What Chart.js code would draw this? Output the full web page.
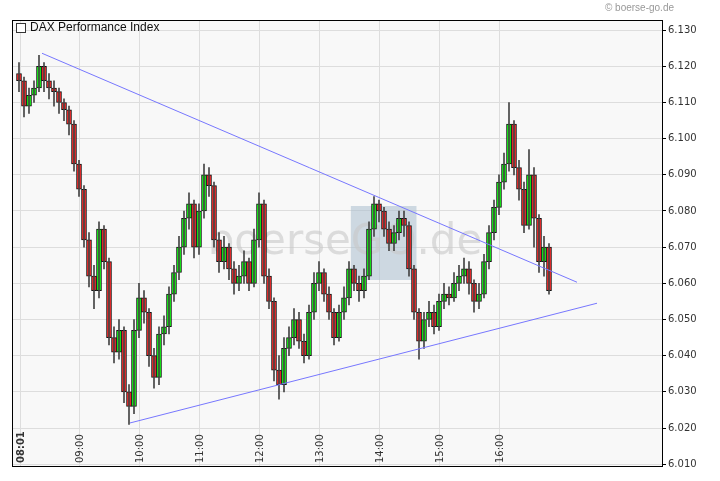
<!DOCTYPE html>
<html>
<head>
<meta charset="utf-8">
<script src="https://cdn.jsdelivr.net/npm/chart.js@4/dist/chart.umd.min.js"></script>
<style>
  html, body { margin: 0; padding: 0; background: #fff; }
  #wrap { width: 720px; height: 481px; position: relative; }
</style>
</head>
<body>
<div id="wrap"><canvas id="chart"></canvas></div>
<script>
// ── Data (5-minute candles, minutes after 08:00) ──────────
const firstOpen = 6118;
const closes = [6116, 6109, 6112, 6114, 6120, 6116, 6114, 6113, 6110, 6108,
  6104, 6093, 6086, 6072, 6062, 6058, 6075, 6066, 6045, 6041,
  6047, 6030, 6026, 6047, 6056, 6052, 6040, 6034, 6046, 6048,
  6057, 6063, 6070, 6078, 6082, 6070, 6080, 6090, 6087, 6072,
  6066, 6070, 6064, 6060, 6062, 6066, 6060, 6072, 6082, 6062,
  6055, 6036, 6032, 6042, 6045, 6050, 6044, 6040, 6052, 6060,
  6063, 6057, 6052, 6045, 6052, 6056, 6064, 6060, 6058, 6062,
  6075, 6082, 6080, 6075, 6071, 6074, 6078, 6076, 6064, 6052,
  6044, 6050, 6052, 6048, 6055, 6057, 6056, 6060, 6062, 6064,
  6060, 6055, 6057, 6066, 6074, 6081, 6088, 6093, 6104, 6092,
  6086, 6076, 6090, 6078, 6066, 6070, 6058];
const highs = [6121, 6117, 6114, 6116, 6123, 6121, 6118, 6116, 6114, 6111,
  6109, 6105, 6094, 6087, 6074, 6065, 6077, 6076, 6067, 6048,
  6050, 6048, 6032, 6050, 6060, 6058, 6053, 6042, 6048, 6051,
  6059, 6065, 6073, 6080, 6085, 6083, 6082, 6093, 6092, 6088,
  6074, 6073, 6071, 6066, 6065, 6069, 6067, 6075, 6085, 6083,
  6064, 6056, 6040, 6045, 6048, 6053, 6052, 6046, 6054, 6063,
  6066, 6064, 6059, 6053, 6054, 6059, 6066, 6065, 6062, 6064,
  6077, 6084, 6083, 6081, 6077, 6076, 6080, 6080, 6077, 6065,
  6053, 6052, 6055, 6054, 6057, 6060, 6059, 6063, 6065, 6067,
  6066, 6061, 6060, 6068, 6076, 6083, 6090, 6096, 6110, 6105,
  6094, 6088, 6097, 6092, 6079, 6073, 6071];
const lows = [6113, 6106, 6107, 6110, 6113, 6113, 6111, 6109, 6107, 6105,
  6101, 6091, 6084, 6070, 6059, 6053, 6056, 6064, 6043, 6038,
  6039, 6027, 6021, 6024, 6045, 6049, 6037, 6031, 6032, 6043,
  6046, 6055, 6061, 6068, 6075, 6067, 6068, 6078, 6084, 6070,
  6063, 6064, 6061, 6057, 6058, 6060, 6058, 6059, 6070, 6060,
  6053, 6033, 6028, 6030, 6040, 6043, 6042, 6038, 6039, 6050,
  6058, 6055, 6050, 6043, 6044, 6050, 6054, 6058, 6055, 6056,
  6061, 6073, 6077, 6073, 6069, 6069, 6072, 6073, 6062, 6050,
  6039, 6042, 6048, 6046, 6047, 6053, 6054, 6055, 6058, 6060,
  6057, 6052, 6053, 6056, 6064, 6072, 6079, 6086, 6091, 6090,
  6083, 6074, 6075, 6070, 6063, 6062, 6057];
const candleMinutes = 5;

const hourTicks = [1, 60, 120, 180, 240, 300, 360, 420, 480];
const hourLabels = ["08:01", "09:00", "10:00", "11:00", "12:00", "13:00", "14:00", "15:00", "16:00"];
const priceTicks = [6010, 6020, 6030, 6040, 6050, 6060, 6070, 6080, 6090, 6100, 6110, 6120, 6130];

// trend lines: [minute, price]
const upperTrend = [[23, 6123.6], [558, 6060.3]];
const lowerTrend = [[111, 6021.4], [578, 6054.5]];

// ── Build datasets ────────────────────────────────────────
const opens = closes.map((c, i) => (i === 0 ? firstOpen : closes[i - 1]));
const wicks = closes.map((c, i) => ({ x: i * candleMinutes, y: [lows[i], highs[i]] }));
const bodies = closes.map((c, i) => ({ x: i * candleMinutes, y: [opens[i], c === opens[i] ? c + 0.3 : c] }));
const bodyColors = closes.map((c, i) => (c >= opens[i] ? "#11ff11" : "#ff2828"));

const bgPlugin = {
  id: "bg",
  beforeDraw(chart) {
    const { ctx, chartArea: a } = chart;
    ctx.save();
    ctx.fillStyle = "#f8f8f8";
    ctx.fillRect(a.left, a.top, a.right - a.left, a.bottom - a.top);
    ctx.restore();
  },
  beforeDatasetsDraw(chart) {
    const cx = 345, cy = 243;
    const { ctx } = chart;
    ctx.save();
    ctx.font = "42px 'DejaVu Sans', sans-serif";
    ctx.textBaseline = "middle";
    const w1 = ctx.measureText("boerse").width;
    const w2 = ctx.measureText("GO").width;
    const w3 = ctx.measureText(".de").width;
    const x = cx - (w1 + w2 + w3) / 2;
    ctx.fillStyle = "rgba(170,190,205,0.55)";
    ctx.fillRect(x + w1, cy - 37, w2, 74);
    ctx.fillStyle = "rgba(200,200,200,0.6)";
    ctx.fillText("boerse", x, cy);
    ctx.fillText("GO", x + w1, cy);
    ctx.fillText(".de", x + w1 + w2, cy);
    ctx.restore();
  },
  afterDraw(chart) {
    const { ctx, chartArea: a } = chart;
    const xs = chart.scales.x;
    ctx.save();
    ctx.strokeStyle = "#000";
    ctx.lineWidth = 1;
    ctx.strokeRect(a.left + 0.5, a.top + 0.5, a.right - a.left, a.bottom - a.top);
    // time labels inside the plot, rotated
    ctx.fillStyle = "#333";
    ctx.textAlign = "left";
    ctx.textBaseline = "middle";
    hourTicks.forEach((t, i) => {
      ctx.save();
      ctx.translate(xs.getPixelForValue(t) + 1, a.bottom - 3);
      ctx.rotate(-Math.PI / 2);
      ctx.font = (i === 0 ? "bold " : "") + "10px 'DejaVu Sans', sans-serif";
      ctx.fillText(hourLabels[i], 0, 0);
      ctx.restore();
    });
    // legend
    ctx.fillStyle = "#fff";
    ctx.fillRect(a.left + 4, a.top + 3, 9, 9);
    ctx.strokeStyle = "#333";
    ctx.strokeRect(a.left + 4.5, a.top + 3.5, 9, 9);
    ctx.fillStyle = "#111";
    ctx.textAlign = "left";
    ctx.font = "12px 'Liberation Sans', Arial, sans-serif";
    ctx.fillText("DAX Performance Index", a.left + 18, a.top + 8);
    // copyright
    ctx.fillStyle = "#999";
    ctx.textAlign = "right";
    ctx.font = "10px 'Liberation Sans', Arial, sans-serif";
    ctx.fillText("\u00a9 boerse-go.de", 674, 8);
    ctx.restore();
  }
};

new Chart(document.getElementById("chart"), {
  data: {
    datasets: [
      {
        type: "line",
        data: upperTrend.map(([x, y]) => ({ x, y })),
        borderColor: "#7777ff", borderWidth: 1, pointRadius: 0
      },
      {
        type: "line",
        data: lowerTrend.map(([x, y]) => ({ x, y })),
        borderColor: "#7777ff", borderWidth: 1, pointRadius: 0
      },
      {
        type: "bar",
        data: wicks,
        backgroundColor: "#444",
        barThickness: 1,
        grouped: false
      },
      {
        type: "bar",
        data: bodies,
        backgroundColor: bodyColors,
        borderColor: "#111",
        borderWidth: 1,
        borderSkipped: false,
        barThickness: 5,
        grouped: false
      }
    ]
  },
  options: {
    responsive: true,
    maintainAspectRatio: false,
    animation: false,
    layout: { padding: { left: 12, top: 20, right: 0, bottom: 15 } },
    plugins: { legend: { display: false }, tooltip: { enabled: false } },
    scales: {
      x: {
        type: "linear",
        offset: false,
        min: -7,
        max: 643,
        afterBuildTicks: (s) => { s.ticks = hourTicks.map((v) => ({ value: v })); },
        afterFit: (s) => { s.height = 0; },
        ticks: { display: false },
        grid: { color: "#dddddd", drawTicks: false, offset: false },
        border: { display: false }
      },
      y: {
        position: "right",
        min: 6009.5,
        max: 6132.8,
        afterBuildTicks: (s) => { s.ticks = priceTicks.map((v) => ({ value: v })); },
        afterFit: (s) => { s.width = 58; },
        ticks: {
          color: "#333",
          padding: 2,
          font: { family: "'DejaVu Sans', sans-serif", size: 10 },
          callback: (v) => "6." + String(v).slice(1)
        },
        grid: { color: "#dddddd", tickLength: 4, tickColor: "#000" },
        border: { display: false }
      }
    }
  },
  plugins: [bgPlugin]
});
</script>
</body>
</html>
